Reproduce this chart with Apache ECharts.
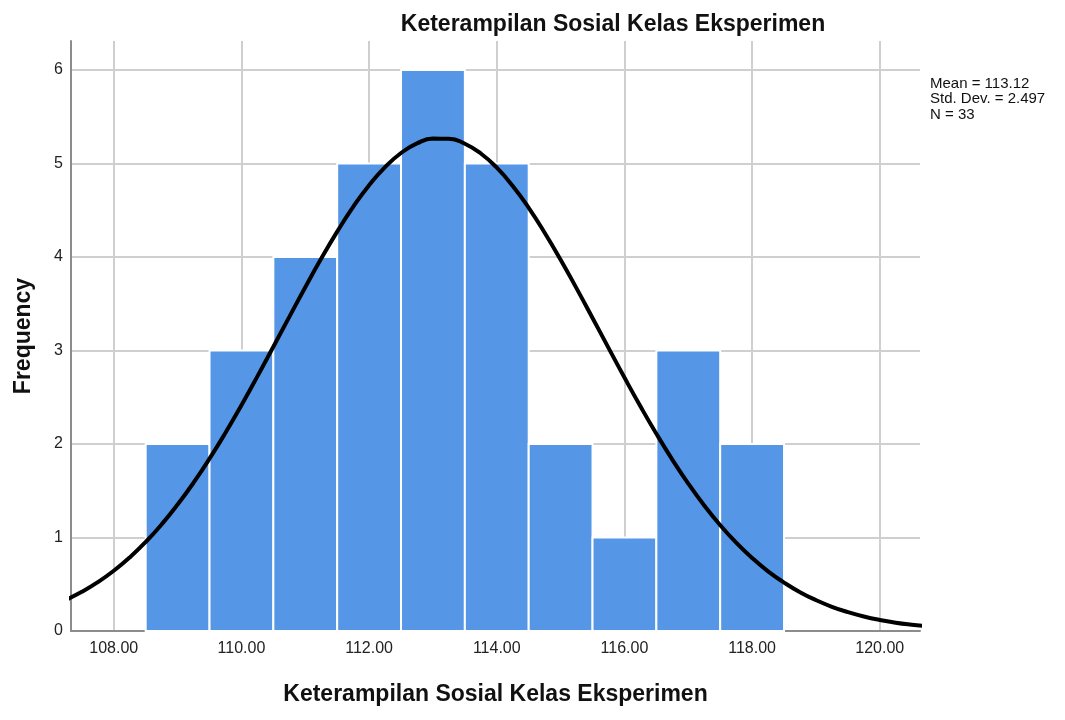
<!DOCTYPE html>
<html>
<head>
<meta charset="utf-8">
<script src="https://cdn.jsdelivr.net/npm/echarts@6/dist/echarts.min.js"></script>
<style>
  html, body { margin: 0; padding: 0; background: #fff; }
  #chart { width: 1065px; height: 720px; }
</style>
</head>
<body>
<div id="chart"></div>
<script>
// histogram bins (centre of each 1-unit bin) and counts
const binCenters = [109, 110, 111, 112, 113, 114, 115, 116, 117, 118]
const binCounts = [2, 3, 4, 5, 6, 5, 2, 1, 3, 2]
const binWidth = 1

// normal curve (every 0.25 on x)
const curveX = [107.25, 107.5, 107.75, 108, 108.25, 108.5, 108.75, 109, 109.25, 109.5, 109.75,
  110, 110.25, 110.5, 110.75, 111, 111.25, 111.5, 111.75, 112, 112.25, 112.5, 112.75,
  113, 113.25, 113.5, 113.75, 114, 114.25, 114.5, 114.75, 115, 115.25, 115.5, 115.75,
  116, 116.25, 116.5, 116.75, 117, 117.25, 117.5, 117.75, 118, 118.25, 118.5, 118.75,
  119, 119.25, 119.5, 119.75, 120, 120.25, 120.5, 120.75]
const curveY = [0.333, 0.419, 0.522, 0.644, 0.787, 0.952, 1.140, 1.352, 1.586, 1.843, 2.120,
  2.415, 2.723, 3.040, 3.360, 3.677, 3.983, 4.271, 4.536, 4.768, 4.961, 5.112, 5.215,
  5.266, 5.265, 5.211, 5.107, 4.955, 4.759, 4.526, 4.260, 3.971, 3.664, 3.348, 3.028,
  2.711, 2.403, 2.109, 1.833, 1.577, 1.342, 1.132, 0.945, 0.781, 0.638, 0.518, 0.415,
  0.330, 0.259, 0.202, 0.155, 0.118, 0.089, 0.067, 0.049]

const statsText = ['Mean = 113.12', 'Std. Dev. = 2.497', 'N = 33']
const titleText = 'Keterampilan Sosial Kelas Eksperimen'

const font = '"Liberation Sans", Arial, sans-serif'
const chart = echarts.init(document.getElementById('chart'))

chart.setOption({
  animation: false,
  title: {
    text: titleText,
    left: 608,
    textAlign: 'center',
    top: 8,
    textStyle: { fontFamily: font, fontSize: 23, fontWeight: 'bold', color: '#111' }
  },
  graphic: [{
    type: 'text',
    left: 930,
    top: 76,
    style: {
      text: statsText.join('\n'),
      fontFamily: font,
      fontSize: 15,
      lineHeight: 15.5,
      fill: '#111'
    }
  }],
  grid: { left: 71, right: 145, top: 41, bottom: 89, outerBoundsMode: 'none' },
  xAxis: {
    type: 'value',
    min: 107.33,
    max: 120.63,
    splitNumber: 6,
    name: titleText,
    nameLocation: 'middle',
    nameGap: 52,
    nameTextStyle: { fontFamily: font, fontSize: 23, fontWeight: 'bold', color: '#111' },
    axisLine: { show: true, onZero: false, lineStyle: { color: '#8c8c8c', width: 2 } },
    axisTick: { show: false },
    axisLabel: {
      fontFamily: font, fontSize: 16, color: '#222', margin: 10,
      showMinLabel: false, showMaxLabel: false,
      formatter: v => v.toFixed(2)
    },
    splitLine: { show: true, showMinLine: false, showMaxLine: false, lineStyle: { color: '#cfcfcf', width: 2 } }
  },
  yAxis: {
    type: 'value',
    min: 0,
    max: 6.31,
    interval: 1,
    name: 'Frequency',
    nameLocation: 'middle',
    nameGap: 36,
    nameTextStyle: { fontFamily: font, fontSize: 23, fontWeight: 'bold', color: '#111' },
    axisLine: { show: true, lineStyle: { color: '#8c8c8c', width: 2 } },
    axisTick: { show: false },
    axisLabel: {
      fontFamily: font, fontSize: 16, color: '#222', margin: 8,
      showMaxLabel: false
    },
    splitLine: { show: true, showMaxLine: false, lineStyle: { color: '#cfcfcf', width: 2 } }
  },
  series: [
    {
      type: 'custom',
      data: binCenters.map((c, i) => [c, binCounts[i]]),
      renderItem: (params, api) => {
        const c = api.value(0)
        const n = api.value(1)
        const p0 = api.coord([c - binWidth / 2, 0])
        const p1 = api.coord([c + binWidth / 2, n])
        return {
          type: 'rect',
          shape: { x: p0[0], y: p1[1], width: p1[0] - p0[0], height: p0[1] - p1[1] },
          style: { fill: '#5596e6', stroke: '#ffffff', lineWidth: 2 }
        }
      },
      z: 2
    },
    {
      type: 'line',
      data: curveX.map((x, i) => [x, curveY[i]]),
      smooth: true,
      showSymbol: false,
      clip: true,
      lineStyle: { color: '#000', width: 4 },
      z: 3
    }
  ]
})
</script>
</body>
</html>
